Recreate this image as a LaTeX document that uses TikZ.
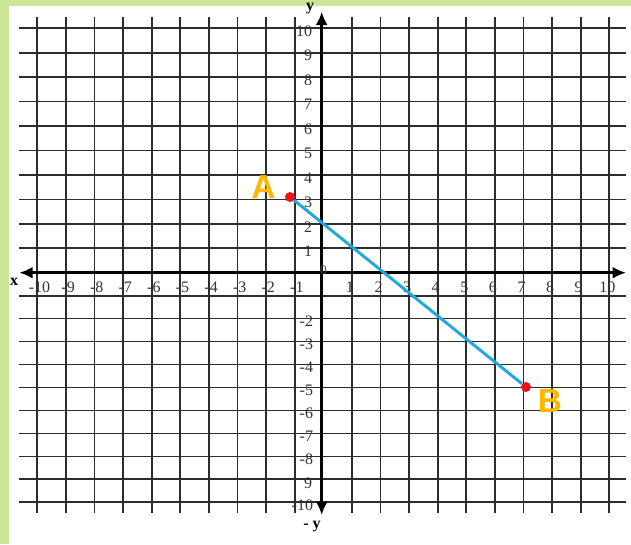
\documentclass[tikz,border=0pt]{standalone}
\usepackage{fontspec}
\setmainfont{Liberation Serif}
\newfontfamily\labfont{Liberation Sans}
\usetikzlibrary{arrows.meta}
\definecolor{framegreen}{RGB}{202,230,152}
\definecolor{gridgray}{RGB}{45,45,45}
\definecolor{segblue}{RGB}{30,170,225}
\definecolor{dotred}{RGB}{235,20,30}
\definecolor{labgold}{RGB}{250,185,0}
\begin{document}
\begin{tikzpicture}[x=0.75pt,y=-0.75pt,
  gridline/.style={gridgray,line width=1.3pt},
  axisline/.style={black,line width=2.2pt},
  numlab/.style={font=\fontsize{12}{13}\selectfont,inner sep=0.5pt,text=black!80},
  axlab/.style={font=\fontsize{12}{13}\selectfont\bfseries,inner sep=0pt},
  ptdot/.style={circle,fill=dotred,inner sep=0pt,minimum size=7.5pt},
  ptlab/.style={font=\labfont\bfseries\fontsize{25}{27}\selectfont,text=labgold,inner sep=0pt},
  seg/.style={segblue,line width=2.2pt}]
\useasboundingbox (0,0) rectangle (631,544);
\fill[white] (0,0) rectangle (631,544);
\fill[framegreen] (0,0) rectangle (9.3,544);
\fill[framegreen] (0,0) rectangle (631,6);
% grid
\foreach \k in {-10,...,-1,1,2,...,10}
  \draw[gridline] ({323.3+28.6*\k},16.7) -- ({323.3+28.6*\k},512.7);
\foreach \k in {1,...,10}{
  \draw[gridline] (19.3,{272.7-24.44*\k}) -- (626,{272.7-24.44*\k});
  \draw[gridline] (19.3,{272.7+22.96*\k}) -- (626,{272.7+22.96*\k});
}
% axes
\coordinate (xl) at (19.3,272.7);
\coordinate (xr) at (626,272.7);
\coordinate (yt) at (321.7,11.7);
\coordinate (yb) at (321.7,515);
\draw[axisline,{Latex[length=10pt,width=9pt]}-{Latex[length=10pt,width=9pt]}] (xl) -- (xr);
\draw[axisline,{Latex[length=10pt,width=9pt]}-{Latex[length=10pt,width=9pt]}] (yb) -- (yt);
% axis names
\node[axlab] (xname) at (14,282) {x};
\node[axlab] (yname) at (310,9) {y};
\node[axlab] (nyname) at (312,527) {- y};
% x labels
\foreach \k in {-10,...,-1}
  \node[numlab] (xlab\k) at ({325.5+28.6*\k},287) {\k};
\foreach \k in {1,...,10}
  \node[numlab] (xlab\k) at ({323.3+28.6*\k-2},287) {\k};
% y labels
\foreach \k in {1,...,10}
  \node[numlab,anchor=east] (ylab\k) at (313,{272.7-24.44*\k+3}) {\k};
\foreach \k in {2,...,8,10}
  \node[numlab,anchor=east] (ylabm\k) at (314,{272.7+22.96*\k+3}) {-\k};
\node[numlab,anchor=east] (ylabm9) at (313,{272.7+22.96*9+4}) {9};
\node[font=\fontsize{10}{11}\selectfont,inner sep=0pt,text=black!70] (orig) at (323.5,270) {0};
% points and segment
\node[ptdot] (A) at (290,197) {};
\node[ptdot] (B) at (526,387) {};
\draw[seg] (A) -- (B);
\node[ptlab] (labA) at (263.3,186.7) {A};
\node[ptlab] (labB) at (550,401) {B};
\end{tikzpicture}
\end{document}
